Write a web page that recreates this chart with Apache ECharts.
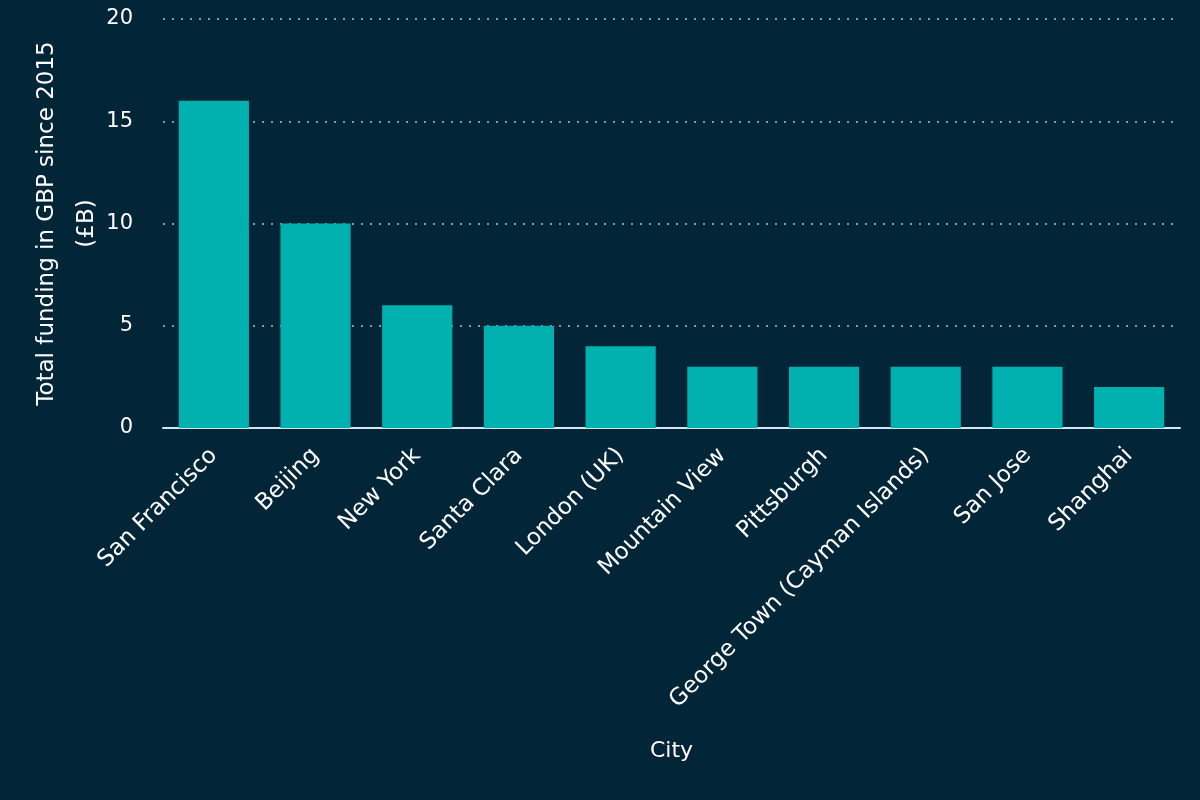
<!DOCTYPE html>
<html>
<head>
<meta charset="utf-8">
<script src="https://cdn.jsdelivr.net/npm/echarts@6/dist/echarts.min.js"></script>
<style>
  html, body { margin: 0; padding: 0; background: #022537; }
  #chart { width: 1200px; height: 800px; }
</style>
</head>
<body>
<div id="chart"></div>
<script>
const cities = ["San Francisco", "Beijing", "New York", "Santa Clara", "London (UK)", "Mountain View", "Pittsburgh", "George Town (Cayman Islands)", "San Jose", "Shanghai"];
const funding = [16, 10, 6, 5, 4, 3, 3, 3, 3, 2];
const yTicks = [0, 5, 10, 15, 20];

const chart = echarts.init(document.getElementById("chart"));
const font = "DejaVu Sans";
chart.setOption({
  backgroundColor: "#022537",
  animation: false,
  grid: { left: 163, right: 20, top: 19, bottom: 372, outerBoundsMode: "none", containLabel: false },
  xAxis: {
    type: "category",
    data: cities,
    name: "City",
    nameLocation: "middle",
    nameGap: 312,
    nameMoveOverlap: false,
    nameTextStyle: { color: "#ffffff", fontSize: 22, fontFamily: font },
    axisTick: { show: false },
    axisLine: { show: true, lineStyle: { color: "#cfe8f2", width: 2 } },
    axisLabel: { color: "#ffffff", fontSize: 23, fontFamily: font, rotate: 45, margin: 24 },
  },
  yAxis: {
    type: "value",
    min: yTicks[0],
    max: yTicks[yTicks.length - 1],
    interval: 5,
    name: "Total funding in GBP since 2015\n(£B)",
    nameLocation: "middle",
    nameGap: 56,
    nameMoveOverlap: false,
    nameTextStyle: { color: "#ffffff", fontSize: 23, fontFamily: font, lineHeight: 40 },
    axisLine: { show: false },
    axisTick: { show: false },
    axisLabel: { color: "#ffffff", fontSize: 21, fontFamily: font, margin: 30 },
    splitLine: { show: true, lineStyle: { color: "#b4c2c8", type: [2, 7], width: 1.5 } },
  },
  series: [
    {
      type: "bar",
      data: funding,
      barCategoryGap: "31%",
      itemStyle: { color: "#00b1b0" },
    },
  ],
});
</script>
</body>
</html>
